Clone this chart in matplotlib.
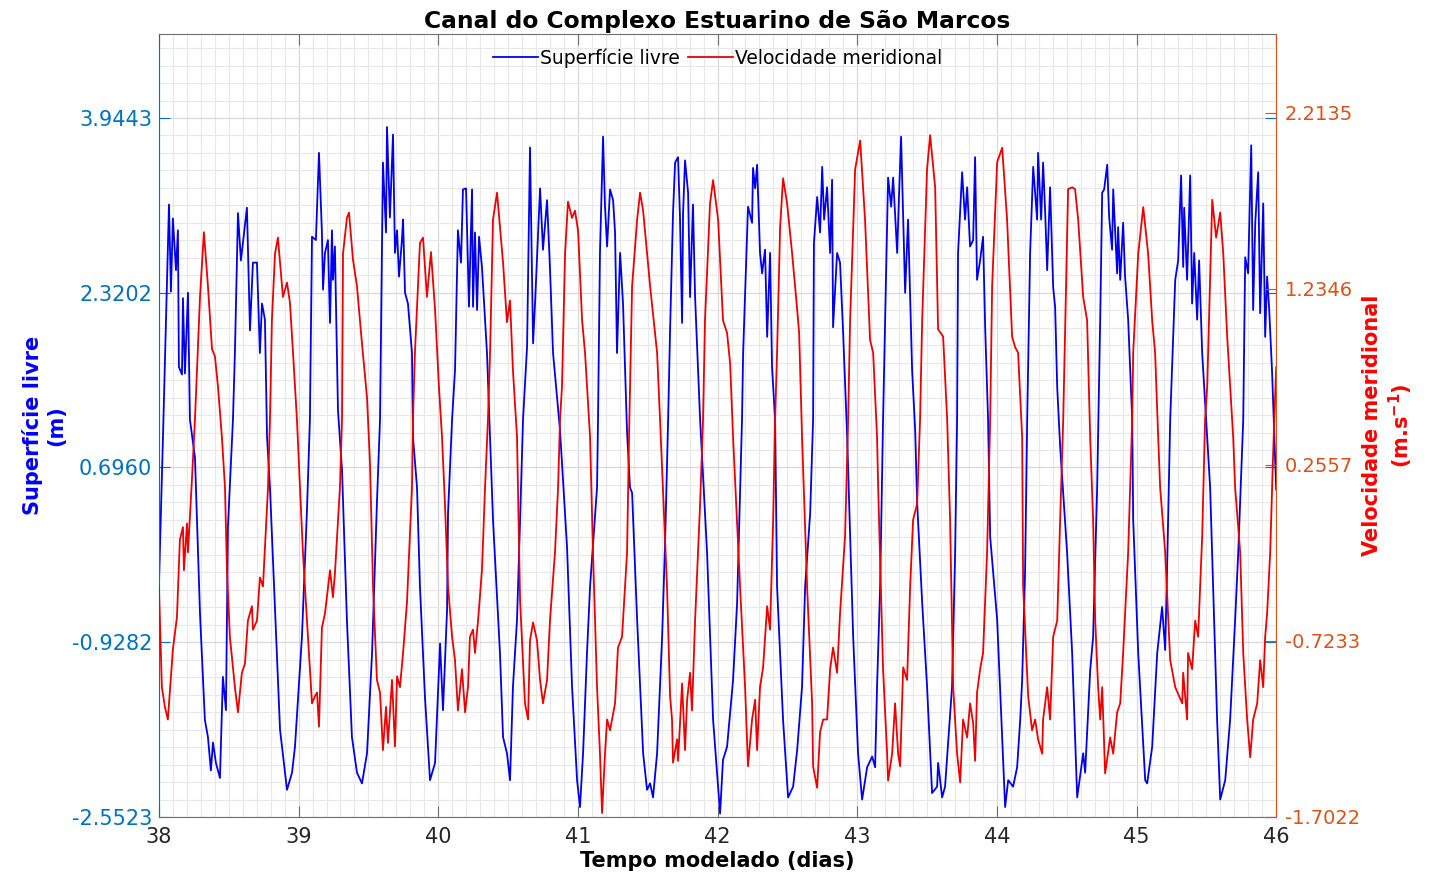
import matplotlib
matplotlib.use('Agg')
import matplotlib.pyplot as plt
import numpy as np

# tempo modelado (dias) e superficie livre (m)
sup_t = [38.000, 38.029, 38.072, 38.086, 38.100, 38.122, 38.136, 38.143, 38.165, 38.172,
         38.186, 38.208, 38.222, 38.258, 38.294, 38.329, 38.351, 38.372, 38.387, 38.408,
         38.437, 38.458, 38.480, 38.494, 38.530, 38.544, 38.566, 38.587, 38.630, 38.652,
         38.673, 38.702, 38.723, 38.738, 38.759, 38.774, 38.795, 38.867, 38.917, 38.953,
         38.974, 39.024, 39.060, 39.081, 39.096, 39.124, 39.146, 39.167, 39.175, 39.189,
         39.210, 39.225, 39.239, 39.246, 39.260, 39.275, 39.282, 39.311, 39.346, 39.382,
         39.418, 39.454, 39.490, 39.526, 39.561, 39.583, 39.604, 39.626, 39.633, 39.654,
         39.676, 39.690, 39.705, 39.719, 39.740, 39.748, 39.762, 39.783, 39.812, 39.819,
         39.848, 39.869, 39.905, 39.941, 39.977, 40.013, 40.034, 40.063, 40.070, 40.099,
         40.120, 40.141, 40.163, 40.177, 40.199, 40.220, 40.242, 40.249, 40.263, 40.278,
         40.292, 40.313, 40.349, 40.371, 40.392, 40.442, 40.464, 40.492, 40.514, 40.535,
         40.564, 40.586, 40.607, 40.636, 40.657, 40.679, 40.693, 40.729, 40.750, 40.779,
         40.800, 40.822, 40.872, 40.922, 40.958, 40.994, 41.015, 41.037, 41.065, 41.087,
         41.137, 41.144, 41.158, 41.180, 41.194, 41.209, 41.230, 41.252, 41.266, 41.280,
         41.302, 41.323, 41.352, 41.373, 41.388, 41.424, 41.467, 41.495, 41.517, 41.538,
         41.567, 41.603, 41.624, 41.646, 41.660, 41.681, 41.696, 41.717, 41.731, 41.746,
         41.753, 41.767, 41.789, 41.803, 41.824, 41.839, 41.875, 41.925, 41.968, 42.004,
         42.018, 42.039, 42.068, 42.111, 42.140, 42.175, 42.183, 42.218, 42.247, 42.254,
         42.269, 42.283, 42.304, 42.319, 42.340, 42.355, 42.376, 42.390, 42.412, 42.426,
         42.469, 42.505, 42.541, 42.570, 42.605, 42.627, 42.663, 42.684, 42.690, 42.713,
         42.734, 42.749, 42.763, 42.784, 42.806, 42.820, 42.827, 42.856, 42.877, 42.899,
         42.928, 42.971, 43.006, 43.035, 43.071, 43.107, 43.128, 43.142, 43.164, 43.185,
         43.221, 43.243, 43.257, 43.286, 43.300, 43.314, 43.329, 43.343, 43.364, 43.393,
         43.415, 43.429, 43.465, 43.500, 43.536, 43.572, 43.579, 43.608, 43.629, 43.679,
         43.701, 43.715, 43.722, 43.751, 43.772, 43.787, 43.808, 43.830, 43.844, 43.858,
         43.880, 43.901, 43.916, 43.937, 43.952, 44.002, 44.038, 44.059, 44.081, 44.116,
         44.145, 44.167, 44.181, 44.202, 44.217, 44.238, 44.260, 44.288, 44.295, 44.317,
         44.331, 44.346, 44.360, 44.381, 44.403, 44.417, 44.432, 44.453, 44.503, 44.539,
         44.575, 44.618, 44.632, 44.668, 44.689, 44.718, 44.740, 44.754, 44.768, 44.790,
         44.804, 44.825, 44.833, 44.861, 44.868, 44.883, 44.904, 44.918, 44.940, 44.969,
         44.976, 45.012, 45.062, 45.076, 45.112, 45.148, 45.183, 45.205, 45.219, 45.241,
         45.277, 45.298, 45.319, 45.334, 45.341, 45.362, 45.384, 45.398, 45.413, 45.434,
         45.448, 45.470, 45.506, 45.527, 45.577, 45.599, 45.635, 45.670, 45.706, 45.728,
         45.764, 45.778, 45.799, 45.821, 45.835, 45.850, 45.871, 45.885, 45.907, 45.921,
         45.935, 45.950, 45.971, 46.000]
sup_v = [-0.40, 0.98, 3.14, 2.33, 3.01, 2.53, 2.90, 1.63, 1.56, 2.27,
         1.57, 2.32, 1.14, 0.79, -0.66, -1.65, -1.81, -2.12, -1.86, -2.05,
         -2.19, -1.25, -1.56, 0.14, 1.14, 1.76, 3.06, 2.62, 3.11, 1.97,
         2.60, 2.60, 1.76, 2.22, 2.07, 0.98, 0.51, -1.74, -2.30, -2.14,
         -1.90, -0.88, 0.30, 1.14, 2.84, 2.81, 3.62, 2.88, 2.35, 2.69,
         2.81, 2.04, 2.90, 2.44, 2.75, 1.69, 1.23, 0.67, -0.72, -1.81,
         -2.14, -2.24, -1.96, -1.03, 0.37, 1.14, 3.53, 2.88, 3.86, 3.02,
         3.79, 2.69, 2.90, 2.47, 2.81, 3.00, 2.32, 2.22, 1.76, 0.98,
         0.51, -0.41, -1.44, -2.21, -2.05, -0.94, -1.56, -0.63, 0.27, 1.14,
         1.60, 2.90, 2.60, 3.28, 3.29, 2.19, 3.28, 2.19, 2.88, 2.16,
         2.84, 2.56, 1.76, 0.98, 0.21, -1.03, -1.81, -1.96, -2.21, -1.34,
         -0.72, 0.21, 1.14, 1.82, 3.67, 1.85, 2.22, 3.29, 2.72, 3.18,
         2.55, 1.76, 1.04, -0.04, -1.34, -2.21, -2.46, -1.96, -1.03, -0.41,
         0.51, 1.14, 2.69, 3.77, 3.12, 2.75, 3.28, 3.18, 2.88, 1.76,
         2.69, 2.22, 1.02, 0.51, 0.46, -0.72, -1.96, -2.30, -2.24, -2.37,
         -1.96, -0.88, -0.01, 1.14, 1.97, 3.06, 3.53, 3.58, 3.02, 2.04,
         3.06, 3.55, 3.25, 2.28, 3.14, 2.28, 1.14, -0.10, -1.65, -2.27,
         -2.52, -2.02, -1.90, -1.28, -0.56, 1.14, 1.76, 3.12, 2.97, 3.48,
         3.29, 3.51, 2.69, 2.50, 2.72, 1.91, 2.69, 1.63, 1.14, -0.41,
         -1.65, -2.37, -2.27, -1.93, -1.34, -0.41, 0.27, 1.14, 2.78, 3.21,
         2.88, 3.49, 3.00, 3.30, 2.69, 3.37, 2.00, 2.69, 2.60, 1.95,
         0.98, -0.88, -1.96, -2.39, -2.09, -1.99, -2.09, -1.34, -0.41, 1.14,
         3.39, 3.12, 3.39, 2.69, 3.25, 3.77, 3.00, 2.32, 3.00, 1.60,
         1.04, 0.37, -0.56, -1.34, -2.33, -2.27, -2.05, -2.37, -2.27, -1.34,
         -0.10, 1.14, 2.69, 3.44, 3.00, 3.30, 2.75, 2.81, 3.58, 2.44,
         2.62, 2.84, 2.00, 1.14, 0.05, -0.72, -1.81, -2.46, -2.21, -2.27,
         -2.09, -1.65, -1.28, -0.26, 1.14, 2.69, 3.49, 3.00, 3.62, 3.00,
         3.53, 3.06, 2.53, 3.30, 2.37, 2.19, 1.44, 0.89, -0.10, -1.03,
         -2.37, -1.96, -2.14, -1.19, -0.88, 0.51, 2.09, 3.25, 3.28, 3.51,
         3.02, 2.72, 3.28, 2.50, 2.93, 2.44, 2.97, 2.47, 2.07, 1.14,
         0.21, -1.03, -2.21, -2.24, -1.90, -1.03, -0.60, -1.00, -0.23, 1.14,
         2.44, 2.62, 3.41, 2.56, 3.11, 2.44, 3.41, 2.22, 2.69, 2.07,
         2.62, 1.76, 0.98, 0.51, -1.65, -2.39, -2.21, -1.65, -0.72, -0.10,
         1.14, 2.65, 2.50, 3.69, 2.16, 2.97, 3.44, 2.13, 3.15, 1.91,
         2.47, 2.16, 1.57, 0.49]

# tempo modelado (dias) e velocidade meridional (m/s)
vel_t = [38.000, 38.021, 38.043, 38.064, 38.100, 38.129, 38.150, 38.172, 38.179, 38.201,
         38.208, 38.236, 38.258, 38.294, 38.322, 38.351, 38.380, 38.401, 38.423, 38.451,
         38.473, 38.487, 38.508, 38.544, 38.566, 38.594, 38.616, 38.637, 38.666, 38.673,
         38.702, 38.723, 38.745, 38.781, 38.795, 38.809, 38.831, 38.852, 38.888, 38.917,
         38.938, 38.960, 38.988, 39.010, 39.031, 39.060, 39.096, 39.117, 39.132, 39.146,
         39.167, 39.189, 39.225, 39.246, 39.260, 39.296, 39.311, 39.318, 39.346, 39.361,
         39.389, 39.418, 39.454, 39.490, 39.511, 39.533, 39.561, 39.583, 39.604, 39.626,
         39.640, 39.669, 39.690, 39.705, 39.726, 39.748, 39.776, 39.812, 39.819, 39.833,
         39.869, 39.891, 39.919, 39.948, 39.977, 40.005, 40.027, 40.048, 40.070, 40.099,
         40.120, 40.141, 40.170, 40.192, 40.213, 40.227, 40.249, 40.263, 40.285, 40.313,
         40.335, 40.356, 40.371, 40.392, 40.421, 40.442, 40.464, 40.492, 40.514, 40.535,
         40.564, 40.586, 40.621, 40.643, 40.657, 40.679, 40.707, 40.729, 40.750, 40.779,
         40.800, 40.836, 40.858, 40.872, 40.886, 40.908, 40.929, 40.958, 40.979, 41.001,
         41.030, 41.051, 41.087, 41.108, 41.137, 41.158, 41.173, 41.194, 41.209, 41.230,
         41.266, 41.287, 41.316, 41.352, 41.366, 41.388, 41.424, 41.445, 41.467, 41.517,
         41.567, 41.588, 41.638, 41.660, 41.674, 41.681, 41.710, 41.717, 41.746, 41.767,
         41.782, 41.803, 41.817, 41.839, 41.875, 41.896, 41.910, 41.946, 41.968, 42.004,
         42.039, 42.068, 42.090, 42.111, 42.161, 42.197, 42.218, 42.247, 42.269, 42.283,
         42.304, 42.326, 42.355, 42.376, 42.398, 42.412, 42.426, 42.448, 42.469, 42.498,
         42.534, 42.570, 42.584, 42.605, 42.641, 42.677, 42.684, 42.713, 42.734, 42.756,
         42.784, 42.806, 42.827, 42.856, 42.877, 42.913, 42.935, 42.949, 42.985, 43.021,
         43.056, 43.092, 43.114, 43.142, 43.150, 43.185, 43.214, 43.221, 43.250, 43.271,
         43.293, 43.307, 43.329, 43.357, 43.379, 43.400, 43.429, 43.450, 43.465, 43.500,
         43.522, 43.558, 43.579, 43.615, 43.644, 43.665, 43.687, 43.715, 43.737, 43.758,
         43.787, 43.808, 43.830, 43.844, 43.858, 43.880, 43.901, 43.930, 43.952, 43.966,
         44.002, 44.038, 44.073, 44.109, 44.131, 44.152, 44.181, 44.188, 44.224, 44.252,
         44.274, 44.295, 44.324, 44.331, 44.360, 44.381, 44.403, 44.432, 44.453, 44.475,
         44.510, 44.539, 44.560, 44.582, 44.618, 44.646, 44.668, 44.689, 44.704, 44.725,
         44.740, 44.754, 44.775, 44.811, 44.833, 44.861, 44.883, 44.904, 44.940, 44.969,
         44.976, 45.012, 45.048, 45.083, 45.112, 45.133, 45.155, 45.169, 45.205, 45.241,
         45.277, 45.327, 45.334, 45.362, 45.369, 45.398, 45.420, 45.441, 45.470, 45.491,
         45.506, 45.542, 45.570, 45.599, 45.621, 45.649, 45.692, 45.706, 45.742, 45.764,
         45.792, 45.814, 45.835, 45.864, 45.885, 45.907, 45.921, 45.935, 45.957, 45.978,
         46.000]
vel_v = [-0.42, -0.98, -1.09, -1.16, -0.77, -0.59, -0.16, -0.09, -0.33, -0.07,
         -0.23, 0.17, 0.51, 1.19, 1.55, 1.25, 0.90, 0.86, 0.69, 0.41,
         0.13, -0.33, -0.70, -0.98, -1.12, -0.90, -0.85, -0.61, -0.53, -0.66,
         -0.61, -0.37, -0.42, 0.13, 0.51, 1.06, 1.43, 1.52, 1.19, 1.27,
         1.16, 0.88, 0.51, 0.13, -0.23, -0.61, -1.07, -1.03, -1.01, -1.20,
         -0.65, -0.57, -0.33, -0.48, -0.35, 0.13, 0.51, 1.43, 1.63, 1.66,
         1.40, 1.25, 0.93, 0.63, 0.27, -0.42, -0.94, -1.01, -1.33, -1.09,
         -1.29, -0.94, -1.31, -0.92, -0.98, -0.79, -0.51, 0.13, 0.51, 0.88,
         1.49, 1.52, 1.19, 1.44, 1.12, 0.69, 0.41, 0.04, -0.42, -0.70,
         -0.83, -1.11, -0.88, -1.12, -0.98, -0.70, -0.66, -0.79, -0.61, -0.33,
         0.13, 0.51, 0.88, 1.62, 1.77, 1.58, 1.38, 1.05, 1.17, 0.78,
         0.41, -0.50, -1.07, -1.16, -0.72, -0.62, -0.72, -0.94, -1.07, -0.94,
         -0.61, -0.23, 0.13, 0.51, 0.69, 1.43, 1.72, 1.63, 1.67, 1.56,
         1.06, 0.88, 0.41, -0.23, -0.98, -1.35, -1.68, -1.35, -1.16, -1.22,
         -1.07, -0.76, -0.70, -0.23, 0.41, 1.25, 1.62, 1.77, 1.67, 1.25,
         0.88, 0.51, -0.42, -1.03, -1.16, -1.40, -1.27, -1.39, -0.96, -1.33,
         -1.05, -0.90, -1.11, -0.61, 0.04, 0.51, 1.06, 1.71, 1.84, 1.62,
         1.06, 0.99, 0.82, 0.41, -0.42, -0.98, -1.42, -1.16, -1.05, -1.33,
         -0.98, -0.87, -0.53, -0.66, -0.05, 0.51, 0.88, 1.58, 1.85, 1.71,
         1.43, 1.12, 0.99, 0.41, -0.42, -1.07, -1.42, -1.54, -1.23, -1.16,
         -1.16, -0.88, -0.76, -0.90, -0.57, -0.14, 0.51, 1.06, 1.90, 2.06,
         1.62, 0.95, 0.88, 0.41, 0.13, -0.88, -1.35, -1.50, -1.35, -1.07,
         -1.35, -1.42, -0.87, -0.94, -0.42, -0.05, 0.04, 0.51, 1.06, 1.90,
         2.09, 1.80, 1.01, 0.97, 0.51, -0.05, -0.98, -1.35, -1.51, -1.16,
         -1.26, -1.07, -1.18, -1.39, -1.01, -0.88, -0.79, -0.23, 0.51, 1.25,
         1.94, 2.02, 1.62, 0.97, 0.91, 0.88, 0.41, -0.42, -1.03, -1.22,
         -1.16, -1.27, -1.35, -1.16, -0.98, -1.16, -0.70, -0.61, -0.05, 0.51,
         1.79, 1.80, 1.79, 1.62, 1.19, 1.06, 0.41, -0.05, -0.61, -0.98,
         -1.16, -0.98, -1.46, -1.26, -1.35, -1.12, -1.07, -0.79, -0.23, 0.51,
         0.88, 1.43, 1.69, 1.43, 1.06, 0.88, 0.41, 0.13, -0.23, -0.83,
         -0.98, -1.07, -0.90, -1.16, -0.79, -0.88, -0.61, -0.70, -0.14, 0.51,
         0.69, 1.73, 1.52, 1.66, 1.43, 0.97, 0.41, 0.13, -0.23, -0.79,
         -1.16, -1.37, -1.16, -1.07, -0.83, -0.98, -0.70, -0.57, -0.23, 0.32,
         0.80]

x_ticks = [38, 39, 40, 41, 42, 43, 44, 45, 46]
sup_ticks = [-2.5523, -0.9282, 0.6960, 2.3202, 3.9443]
vel_ticks = [-1.7022, -0.7233, 0.2557, 1.2346, 2.2135]

azul_eixo = '#0072BD'
laranja_eixo = '#D95319'
cinza = '#6e6e6e'

fig = plt.figure(figsize=(14.37, 8.75), dpi=100)
ax1 = fig.add_axes([0.1106, 0.0663, 0.7775, 0.8949])
ax2 = ax1.twinx()

l1, = ax1.plot(sup_t, sup_v, color='#0000ee', linewidth=1.3, label='Superfície livre')
l2, = ax2.plot(vel_t, vel_v, color='#ee0000', linewidth=1.3, label='Velocidade meridional')

ax1.set_xlim(38, 46)
ax1.set_ylim(-2.5523, 4.7253)
ax2.set_ylim(-1.7022, 2.6530)

ax1.set_xticks(x_ticks)
ax1.set_xticklabels([str(v) for v in x_ticks])
ax1.set_yticks(sup_ticks)
ax1.set_yticklabels(['%.4f' % v for v in sup_ticks])
ax2.set_yticks(vel_ticks)
ax2.set_yticklabels(['%.4f' % v for v in vel_ticks])

# grade principal e secundaria
ax1.set_xticks(np.arange(38, 46.001, 0.1), minor=True)
ax1.set_yticks(np.arange(-2.5523, 4.73, 1.62415 / 10), minor=True)
ax1.grid(which='minor', color='#e8e8e8', linewidth=0.8)
ax1.grid(which='major', color='#d8d8d8', linewidth=0.9)
ax1.set_axisbelow(True)

ax1.tick_params(axis='x', which='major', direction='in', length=8, top=True,
                colors=cinza, labelcolor='#262626', labelsize=15, pad=7)
ax1.tick_params(axis='y', which='major', direction='in', length=8, right=True,
                colors=azul_eixo, labelsize=15, pad=5)
ax1.tick_params(which='minor', length=0)
ax2.tick_params(axis='y', which='major', direction='in', length=8,
                colors=laranja_eixo, labelsize=14, pad=6)
ax2.tick_params(which='minor', length=0)

for s in ['top', 'bottom']:
    ax1.spines[s].set_color(cinza)
ax1.spines['left'].set_color(azul_eixo)
ax1.spines['right'].set_visible(False)
ax2.spines['right'].set_color(laranja_eixo)
for s in ['left', 'top', 'bottom']:
    ax2.spines[s].set_visible(False)

ax1.set_xlabel('Tempo modelado (dias)', fontsize=15, fontweight='bold', labelpad=3)
ax1.set_ylabel('Superfície livre\n(m)', fontsize=15, fontweight='bold', color='#0000ff')
ax1.yaxis.set_label_coords(-0.083, 0.5)
ax2.set_ylabel('Velocidade meridional\n(m.s$^{\\mathbf{-1}}$)', fontsize=15,
               fontweight='bold', color='#ff0000')
ax2.yaxis.set_label_coords(1.077, 0.5)
ax1.set_title('Canal do Complexo Estuarino de São Marcos', fontsize=16.8,
              fontweight='bold', pad=4)

ax2.legend(handles=[l1, l2], loc='upper center', bbox_to_anchor=(0.5, 1.003), ncol=2,
           frameon=False, fontsize=13.5, handlelength=2.4, handletextpad=0.1,
           columnspacing=0.4)

fig.savefig('out.png', dpi=100)
